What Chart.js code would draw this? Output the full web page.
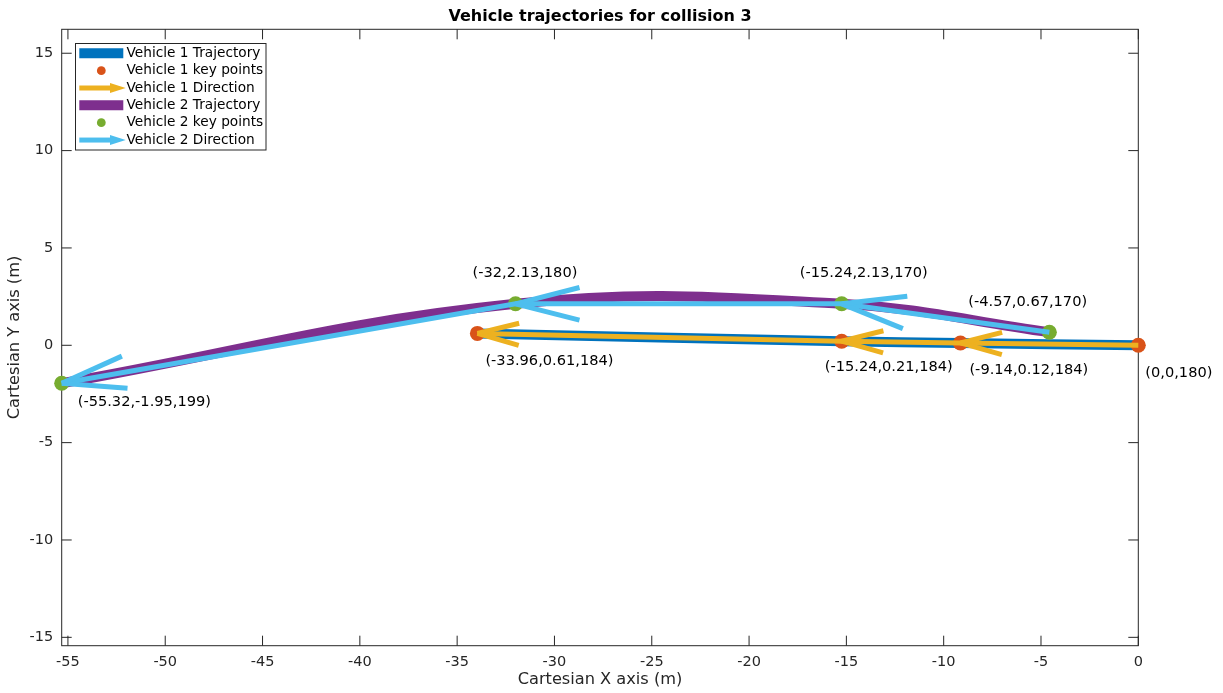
<!DOCTYPE html>
<html lang="en">
  <head>
    <meta charset="UTF-8" />
    <meta name="viewport" content="width=device-width, initial-scale=1.0" />
    <script src="https://cdn.jsdelivr.net/npm/chart.js"></script>
    <title>Vehicle trajectories for collision 3</title>
    <style>
      * {
        padding: 0;
        margin: 0;
        box-sizing: border-box;
      }
      body {
        background-color: #fff;
      }
      .chart-box {
        width: 1223px;
        height: 693px;
      }
    </style>
  </head>
  <body>
    <div class="chart-box">
      <canvas id="myChart"></canvas>
    </div>
    <script>
      // vehicle 1 key points, in driving order (x, y in m, heading in deg)
      const v1X = [0, -9.14, -15.24, -33.96];
      const v1Y = [0, 0.12, 0.21, 0.61];
      const v1Heading = [180, 184, 184, 184];

      // vehicle 2 key points, in driving order
      const v2X = [-4.57, -15.24, -32, -55.32];
      const v2Y = [0.67, 2.13, 2.13, -1.95];
      const v2Heading = [170, 170, 180, 199];

      const xTicks = [-55, -50, -45, -40, -35, -30, -25, -20, -15, -10, -5, 0];
      const yTicks = [-15, -10, -5, 0, 5, 10, 15];

      // where each "(x,y,heading)" text sits relative to its point, px
      const v1TagDx = [7, 9, -17, 8];
      const v1TagDy = [28, 27, 26.5, 27.5];
      const v2TagDx = [-81, -42, -43, 16];
      const v2TagDy = [-30.5, -31, -31, 18.5];

      const FONT = 'DejaVu Sans';
      Chart.defaults.font.family = FONT;

      const toPts = (xs, ys) => xs.map((x, i) => ({ x: x, y: ys[i] }));
      const tags = (xs, ys, hs) => xs.map((x, i) => '(' + x + ',' + ys[i] + ',' + hs[i] + ')');

      const datasets = [
        {
          label: 'Vehicle 1 Trajectory',
          kind: 'line',
          data: toPts(v1X, v1Y),
          borderColor: '#0072BD',
          borderWidth: 10,
          tension: 0.4,
          pointRadius: 0,
          order: 6,
        },
        {
          label: 'Vehicle 1 key points',
          kind: 'dot',
          data: toPts(v1X, v1Y),
          showLine: false,
          pointRadius: 7.5,
          pointBorderWidth: 0,
          pointBackgroundColor: '#D95319',
          borderColor: '#D95319',
          tags: tags(v1X, v1Y, v1Heading),
          tagDx: v1TagDx,
          tagDy: v1TagDy,
          order: 5,
        },
        {
          label: 'Vehicle 1 Direction',
          kind: 'arrow',
          data: toPts(v1X, v1Y),
          borderColor: '#EDB120',
          borderWidth: 5,
          tension: 0,
          pointRadius: 0,
          head: { len: 43, angle: 0.26 },
          order: 4,
        },
        {
          label: 'Vehicle 2 Trajectory',
          kind: 'line',
          data: toPts(v2X, v2Y),
          borderColor: '#7E2F8E',
          borderWidth: 10,
          tension: 0.4,
          pointRadius: 0,
          order: 3,
        },
        {
          label: 'Vehicle 2 key points',
          kind: 'dot',
          data: toPts(v2X, v2Y),
          showLine: false,
          pointRadius: 7.5,
          pointBorderWidth: 0,
          pointBackgroundColor: '#77AC30',
          borderColor: '#77AC30',
          tags: tags(v2X, v2Y, v2Heading),
          tagDx: v2TagDx,
          tagDy: v2TagDy,
          order: 2,
        },
        {
          label: 'Vehicle 2 Direction',
          kind: 'arrow',
          data: toPts(v2X, v2Y),
          borderColor: '#4DBEEE',
          borderWidth: 5,
          tension: 0,
          pointRadius: 0,
          head: { len: 66, angle: 0.25 },
          order: 1,
        },
      ];
      datasets.forEach((d) => (d.clip = false));

      // box around the plot with inward ticks on all four sides
      const frame = {
        id: 'frame',
        beforeDatasetsDraw(chart) {
          const { ctx, chartArea: a, scales } = chart;
          const tl = 10;
          ctx.save();
          ctx.strokeStyle = '#262626';
          ctx.lineWidth = 1;
          ctx.strokeRect(a.left, a.top, a.right - a.left, a.bottom - a.top);
          ctx.beginPath();
          xTicks.forEach((v) => {
            const px = scales.x.getPixelForValue(v);
            ctx.moveTo(px, a.bottom);
            ctx.lineTo(px, a.bottom - tl);
            ctx.moveTo(px, a.top);
            ctx.lineTo(px, a.top + tl);
          });
          yTicks.forEach((v) => {
            const py = scales.y.getPixelForValue(v);
            ctx.moveTo(a.left, py);
            ctx.lineTo(a.left + tl, py);
            ctx.moveTo(a.right, py);
            ctx.lineTo(a.right - tl, py);
          });
          ctx.stroke();
          ctx.restore();
        },
      };

      // open arrow heads at every key point a direction line runs into
      const arrowHeads = {
        id: 'arrowHeads',
        afterDatasetDraw(chart, args) {
          const ds = chart.data.datasets[args.index];
          if (!ds.head) return;
          const pts = args.meta.data;
          const ctx = chart.ctx;
          ctx.save();
          ctx.strokeStyle = ds.borderColor;
          ctx.lineWidth = ds.borderWidth;
          ctx.lineCap = 'butt';
          for (let i = 1; i < pts.length; i++) {
            const tip = pts[i];
            const from = pts[i - 1];
            const a = Math.atan2(from.y - tip.y, from.x - tip.x);
            [a + ds.head.angle, a - ds.head.angle].forEach((t) => {
              ctx.beginPath();
              ctx.moveTo(tip.x, tip.y);
              ctx.lineTo(tip.x + ds.head.len * Math.cos(t), tip.y + ds.head.len * Math.sin(t));
              ctx.stroke();
            });
          }
          ctx.restore();
        },
      };

      // "(x,y,heading)" next to each key point
      const pointTags = {
        id: 'pointTags',
        afterDatasetsDraw(chart) {
          const ctx = chart.ctx;
          ctx.save();
          ctx.font = '14.6px ' + FONT;
          ctx.fillStyle = '#000';
          ctx.textAlign = 'left';
          ctx.textBaseline = 'middle';
          chart.data.datasets.forEach((ds, i) => {
            if (!ds.tags) return;
            chart.getDatasetMeta(i).data.forEach((p, j) => {
              ctx.fillText(ds.tags[j], p.x + ds.tagDx[j], p.y + ds.tagDy[j]);
            });
          });
          ctx.restore();
        },
      };

      // legend box in the upper left corner
      const legendBox = {
        id: 'legendBox',
        afterDraw(chart) {
          const ctx = chart.ctx;
          const left = 75, top = 43.5, w = 190.5, h = 106.5;
          const rowH = 17.35, firstRow = 53.3;
          const x0 = 79.3, x1 = 123.3, textX = 126.5;
          ctx.save();
          ctx.fillStyle = '#fff';
          ctx.fillRect(left, top, w, h);
          ctx.strokeStyle = '#262626';
          ctx.lineWidth = 1;
          ctx.strokeRect(left + 0.5, top, w, h);
          ctx.font = '13.7px ' + FONT;
          ctx.textBaseline = 'middle';
          chart.data.datasets.forEach((ds, i) => {
            const cy = firstRow + i * rowH;
            const col = ds.borderColor;
            if (ds.kind === 'line') {
              ctx.strokeStyle = col;
              ctx.lineWidth = ds.borderWidth;
              ctx.beginPath();
              ctx.moveTo(x0, cy);
              ctx.lineTo(x1, cy);
              ctx.stroke();
            } else if (ds.kind === 'dot') {
              ctx.fillStyle = ds.pointBackgroundColor;
              ctx.beginPath();
              ctx.arc((x0 + x1) / 2, cy, 4.4, 0, Math.PI * 2);
              ctx.fill();
            } else {
              ctx.strokeStyle = col;
              ctx.lineWidth = ds.borderWidth;
              ctx.beginPath();
              ctx.moveTo(x0, cy);
              ctx.lineTo(111, cy);
              ctx.stroke();
              ctx.fillStyle = col;
              ctx.beginPath();
              ctx.moveTo(110, cy - 5);
              ctx.lineTo(125.7, cy);
              ctx.lineTo(110, cy + 5);
              ctx.closePath();
              ctx.fill();
            }
            ctx.fillStyle = '#000';
            ctx.fillText(ds.label, textX, cy);
          });
          ctx.restore();
        },
      };

      const plotTitle = {
        id: 'plotTitle',
        afterDraw(chart) {
          const { ctx, chartArea: a } = chart;
          ctx.save();
          ctx.font = 'bold 16px ' + FONT;
          ctx.fillStyle = '#000';
          ctx.textAlign = 'center';
          ctx.textBaseline = 'middle';
          ctx.fillText('Vehicle trajectories for collision 3', (a.left + a.right) / 2, 16.5);
          ctx.restore();
        },
      };

      const config = {
        type: 'line',
        data: { datasets: datasets },
        options: {
          responsive: true,
          maintainAspectRatio: false,
          animation: false,
          events: [],
          layout: { padding: { top: 29.3, right: 84.7, left: 0, bottom: 0 } },
          plugins: {
            legend: { display: false },
            title: { display: false },
            tooltip: { enabled: false },
          },
          scales: {
            x: {
              type: 'linear',
              min: -55.32,
              max: 0,
              afterFit: (s) => {
                s.height = 47.3;
              },
              afterBuildTicks: (s) => {
                s.ticks = xTicks.map((v) => ({ value: v }));
              },
              grid: { display: false, drawTicks: false },
              border: { display: false },
              ticks: {
                padding: 7.5,
                maxRotation: 0,
                autoSkip: false,
                color: '#262626',
                font: { size: 14.5 },
              },
              title: {
                display: true,
                text: 'Cartesian X axis (m)',
                color: '#262626',
                font: { size: 16.2 },
                padding: { top: 0, bottom: 3.8 },
              },
            },
            y: {
              type: 'linear',
              min: -15.43,
              max: 16.23,
              afterFit: (s) => {
                s.width = 61.7;
              },
              afterBuildTicks: (s) => {
                s.ticks = yTicks.map((v) => ({ value: v }));
              },
              grid: { display: false, drawTicks: false },
              border: { display: false },
              ticks: {
                padding: 8.5,
                autoSkip: false,
                color: '#262626',
                font: { size: 14.5 },
              },
              title: {
                display: true,
                text: 'Cartesian Y axis (m)',
                color: '#262626',
                font: { size: 16.2 },
                padding: { top: 5, bottom: 0 },
              },
            },
          },
        },
        plugins: [frame, arrowHeads, pointTags, legendBox, plotTitle],
      };

      const myChart = new Chart(document.getElementById('myChart'), config);
    </script>
  </body>
</html>
